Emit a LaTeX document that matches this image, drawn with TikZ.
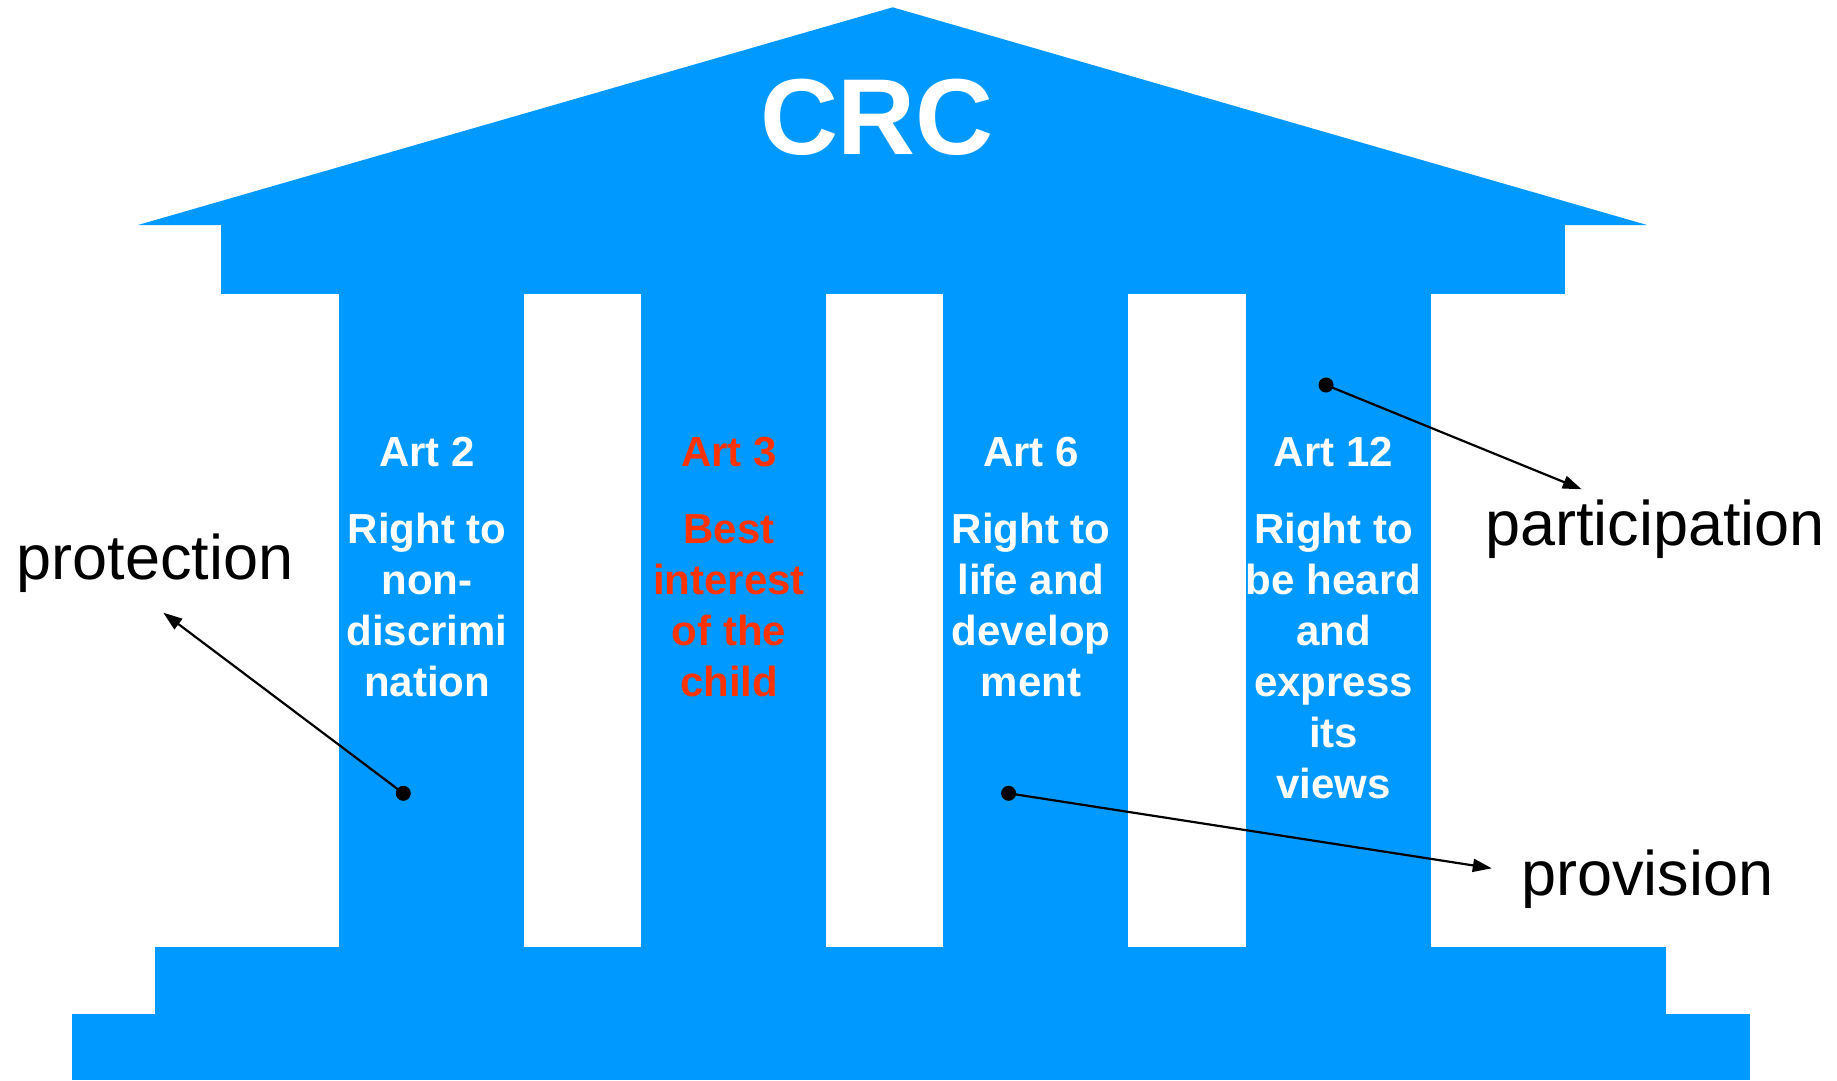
\documentclass[tikz,border=0pt]{standalone}
\usepackage{fontspec}
\setmainfont{Liberation Sans}
\usetikzlibrary{arrows.meta}
\definecolor{crcblue}{HTML}{0099FF}
\definecolor{crcred}{HTML}{FF3300}
\begin{document}
\begin{tikzpicture}[x=1pt,y=-1pt,
  bldg/.style={fill=crcblue,draw=none},
  coltext/.style={anchor=base,inner sep=0pt,text=white,font=\fontsize{42}{51}\selectfont\bfseries},
  lbl/.style={anchor=base,inner sep=0pt,text=black,font=\fontsize{63}{75}\selectfont},
  pointer/.style={line width=2.2pt,draw=black,-{Triangle[length=19pt,width=13pt]}},
  pindot/.style={fill=black}]
\useasboundingbox (0,0) rectangle (1837,1080);
\fill[white] (0,0) rectangle (1837,1080);
% building
\fill[bldg] (138,225) -- (892.7,7.3) -- (1647,225) -- cycle;
\fill[bldg] (221,224) rectangle (1565,293.5);
\fill[bldg] (338.6,293) rectangle (523.7,947.5);
\fill[bldg] (640.9,293) rectangle (826,947.5);
\fill[bldg] (943,293) rectangle (1128.2,947.5);
\fill[bldg] (1245.8,293) rectangle (1430.5,947.5);
\fill[bldg] (154.6,947) rectangle (1666,1014.5);
\fill[bldg] (71.5,1014) rectangle (1750,1080);
% title
\node[anchor=base,inner sep=0pt,text=white,font=\fontsize{108}{120}\selectfont\bfseries] (crc) at (877,154) {CRC};
% column texts
\node[coltext] (h2) at (427,466.7) {Art 2};
\node[coltext] (b2) at (427,543.3) {\begin{tabular}[t]{@{}c@{}}Right to\\non-\\discrimi\\nation\end{tabular}};
\node[coltext,text=crcred] (h3) at (729,466.7) {Art 3};
\node[coltext,text=crcred] (b3) at (729,543.3) {\begin{tabular}[t]{@{}c@{}}Best\\interest\\of the\\child\end{tabular}};
\node[coltext] (h6) at (1031,466.7) {Art 6};
\node[coltext] (b6) at (1031,543.3) {\begin{tabular}[t]{@{}c@{}}Right to\\life and\\develop\\ment\end{tabular}};
\node[coltext] (h12) at (1333.5,466.7) {Art 12};
\node[coltext] (b12) at (1333.5,543.3) {\begin{tabular}[t]{@{}c@{}}Right to\\be heard\\and\\express\\its\\views\end{tabular}};
% labels
\node[lbl] (prot) at (155,579) {protection};
\node[lbl] (part) at (1655,545) {participation};
\node[lbl] (prov) at (1647.5,895) {provision};
% pointers
\coordinate (d1) at (403.3,793.3);
\coordinate (e1) at (163.3,612.7);
\coordinate (d2) at (1008.6,793.3);
\coordinate (e2) at (1491.8,868.3);
\coordinate (d3) at (1326,385);
\coordinate (e3) at (1581.7,489.3);
\draw[pointer] (d1) -- (e1);
\draw[pointer] (d2) -- (e2);
\draw[pointer] (d3) -- (e3);
\fill[pindot] (d1) circle (7.5pt);
\fill[pindot] (d2) circle (7.5pt);
\fill[pindot] (d3) circle (7.5pt);
\end{tikzpicture}
\end{document}
